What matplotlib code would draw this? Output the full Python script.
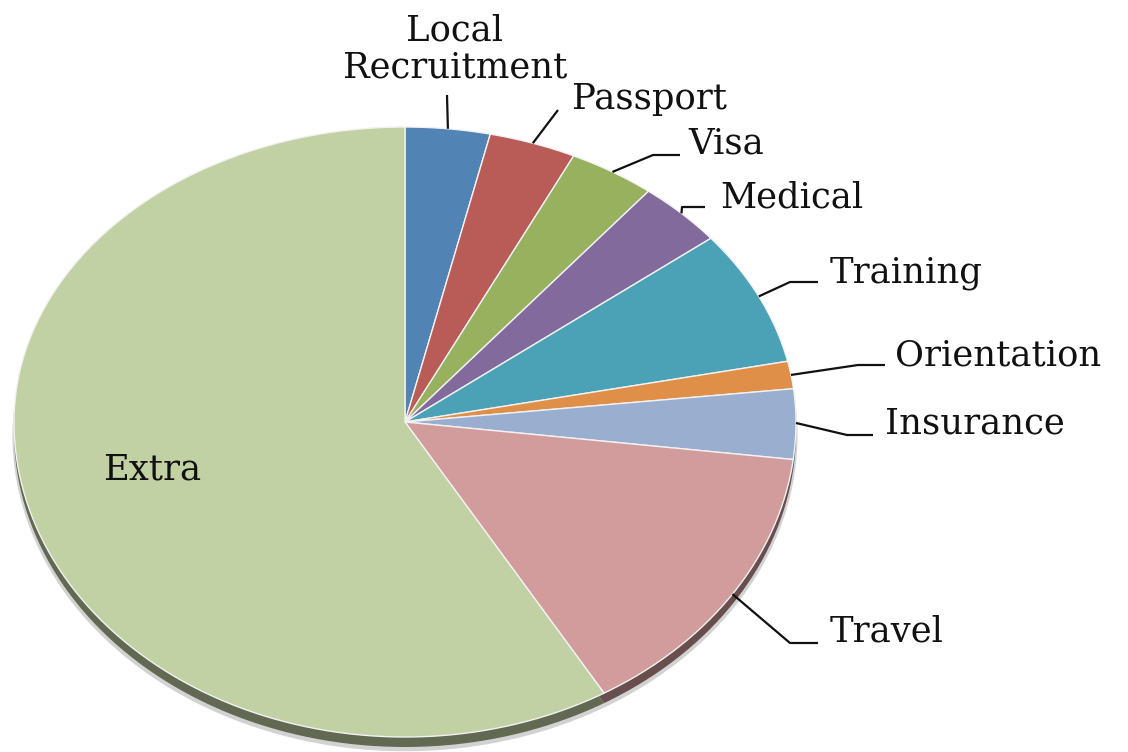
import numpy as np
import matplotlib
matplotlib.use("Agg")
import matplotlib.pyplot as plt
import matplotlib.colors as mcolors
import matplotlib.transforms as mtransforms
from matplotlib.path import Path

# data (share of total, %)
categories = ["Local\nRecruitment", "Passport", "Visa", "Medical", "Training",
              "Orientation", "Insurance", "Travel", "Extra"]
shares = [3.5, 3.6, 3.6, 3.6, 7.4, 1.5, 3.7, 14.6, 58.5]
colors = ["#5283b5", "#b95b56", "#98b15f", "#826b9c", "#4ba2b7",
          "#df8f48", "#9aaecf", "#d29c9c", "#c1d1a4"]

# pie geometry in image pixels (slightly tilted ellipse, like the 3D original)
W, H = 1128, 752
CX, CY = 405, 422
RX, RY_TOP, RY_BOT = 391, 295, 315


class Tilt(mtransforms.Transform):
    """unit-circle pie coords -> image pixels (y up), squashed like the picture"""
    input_dims = output_dims = 2
    is_separable = False
    has_inverse = False

    def transform_non_affine(self, xy):
        xy = np.array(xy, dtype=float)
        x, y = xy[:, 0], xy[:, 1]
        out = np.empty_like(xy)
        out[:, 0] = CX + x * RX
        out[:, 1] = (H - CY) + np.where(y > 0, y * RY_TOP, y * RY_BOT)
        return out

    def transform_path_non_affine(self, path):
        # flatten the arcs first so the squash keeps them smooth
        k = 500.0
        polys = path.to_polygons(transform=mtransforms.Affine2D().scale(k),
                                 closed_only=True)
        verts = np.concatenate(polys) / k
        return Path(self.transform(verts))


def px(x, y):
    # image pixel (y down) -> axes data (y up)
    return x, H - y


# label layout: (elbow, line end, text anchor, ha) in image pixels
layout = {
    "Local\nRecruitment": (None, (447, 95), (455, 77), "center"),
    "Passport": (None, (558, 110), (572, 109), "left"),
    "Visa": ((653, 155), (680, 155), (688, 154), "left"),
    "Medical": ((682, 207), (705, 207), (720, 207), "left"),
    "Training": ((790, 282), (818, 282), (830, 282), "left"),
    "Orientation": ((858, 365), (885, 365), (895, 366), "left"),
    "Insurance": ((847, 435), (873, 435), (885, 433), "left"),
    "Travel": ((790, 643), (818, 643), (830, 642), "left"),
}
inside_label = (152, 480)

fig = plt.figure(figsize=(W / 100, H / 100), dpi=100)
ax = fig.add_axes([0, 0, 1, 1])

tilt = Tilt()
dark = [tuple(c * 0.5 for c in mcolors.to_rgb(col)) for col in colors]

# soft shadow and dark rim underneath the face
shadow, _ = ax.pie(shares, colors=["#d2d2d2"] * len(shares), startangle=90,
                   counterclock=False, radius=1.004,
                   wedgeprops=dict(linewidth=0))
rim, _ = ax.pie(shares, colors=dark, startangle=90, counterclock=False,
                wedgeprops=dict(linewidth=0))
wedges, _ = ax.pie(shares, colors=colors, startangle=90, counterclock=False,
                   wedgeprops=dict(linewidth=1, edgecolor="#f2f2f2"))

for w in shadow:
    w.set_transform(tilt + mtransforms.Affine2D().translate(0, -13) + ax.transData)
    w.set_zorder(0)
for w in rim:
    w.set_transform(tilt + mtransforms.Affine2D().translate(0, -10) + ax.transData)
    w.set_zorder(1)
for w in wedges:
    w.set_transform(tilt + ax.transData)
    w.set_zorder(2)

font = dict(family="DejaVu Serif", fontsize=25.5, color="#111111")

for w, name in zip(wedges, categories):
    if name not in layout:
        ax.text(*px(*inside_label), name, ha="center", va="baseline", zorder=5, **font)
        continue
    mid = np.radians((w.theta1 + w.theta2) / 2)
    sx, sy = tilt.transform(np.array([[np.cos(mid), np.sin(mid)]]))[0]
    elbow, end, anchor, ha = layout[name]
    pts = [(sx, sy)]
    if elbow is not None:
        pts.append(px(*elbow))
    pts.append(px(*end))
    xs, ys = zip(*pts)
    ax.plot(xs, ys, color="#111111", lw=1.6, zorder=4, solid_capstyle="butt")
    ax.text(*px(*anchor), name, ha=ha, va="baseline", zorder=5,
            multialignment="center", linespacing=1.1, **font)

ax.set_aspect("auto")
ax.set_xlim(0, W)
ax.set_ylim(0, H)
ax.axis("off")

fig.savefig("out.png", dpi=100, facecolor="white")
